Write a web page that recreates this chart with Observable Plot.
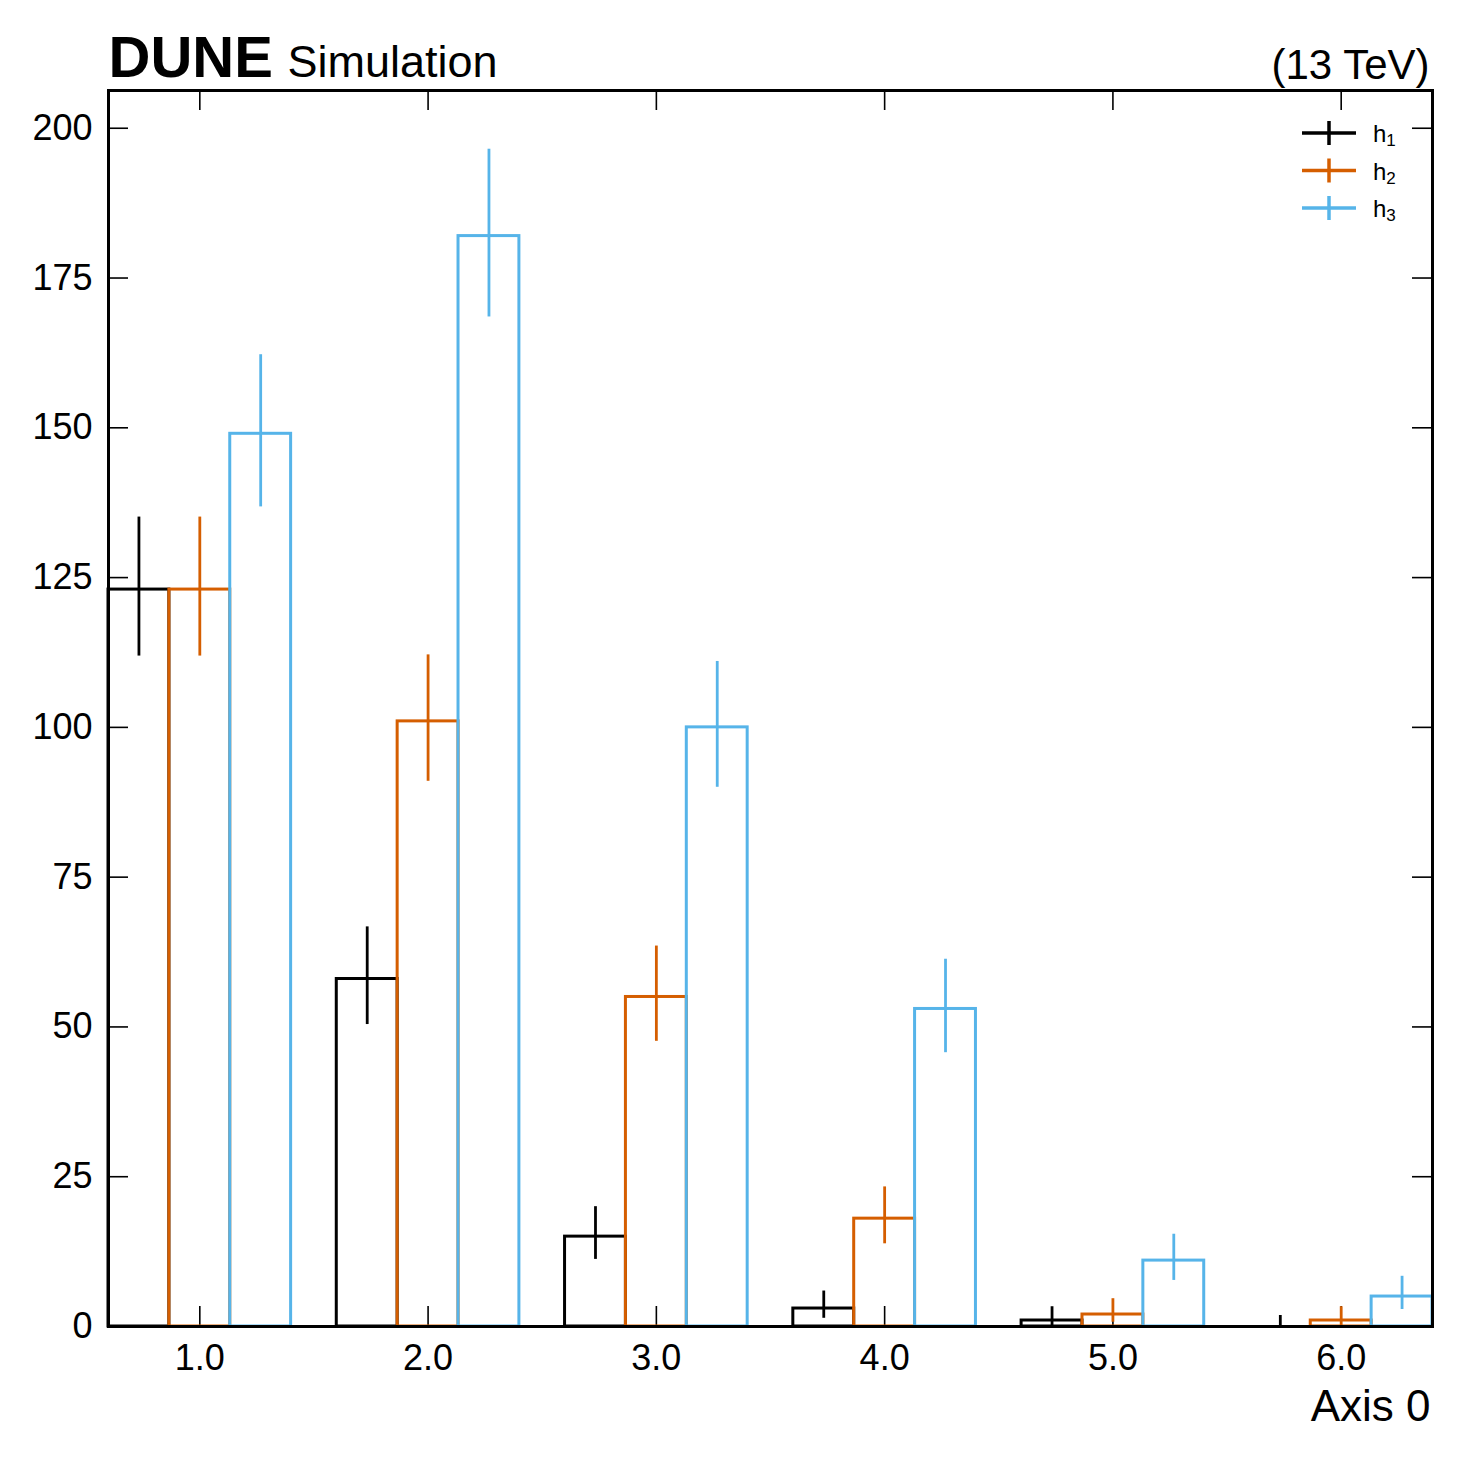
<!DOCTYPE html>
<html>
<head>
<meta charset="utf-8">
<script src="https://cdn.jsdelivr.net/npm/d3@7"></script>
<script src="https://cdn.jsdelivr.net/npm/@observablehq/plot@0.6"></script>
<style>
  html, body { margin: 0; padding: 0; background: #ffffff; }
  #chart { position: relative; width: 1461px; height: 1461px; }
</style>
</head>
<body>
<div id="chart"></div>
<script>
// ---- data ----
const binCenters = [1, 2, 3, 4, 5, 6];
const seriesNames = ["h1", "h2", "h3"];
const legendBase = "h";
const legendSubs = ["1", "2", "3"];
const seriesColors = ["#000000", "#D55E00", "#56B4E9"];
const h1Values = [123, 58, 15, 3, 1, 0];
const h2Values = [123, 101, 55, 18, 2, 1];
const h3Values = [149, 182, 100, 53, 11, 5];
// error bar ends (asymmetric Poisson intervals as drawn)
const h1Lower = [111.9, 50.4, 11.2, 1.37, 0.17, 0];
const h1Upper = [135.1, 66.7, 20.0, 5.92, 3.30, 1.84];
const h2Lower = [111.9, 91.0, 47.6, 13.8, 0.71, 0.17];
const h2Upper = [135.1, 112.1, 63.5, 23.3, 4.64, 3.30];
const h3Lower = [136.8, 168.5, 90.0, 45.7, 7.69, 2.84];
const h3Upper = [162.2, 196.5, 111.0, 61.3, 15.4, 8.38];
const xTicks = [1, 2, 3, 4, 5, 6];
const yTicks = [0, 25, 50, 75, 100, 125, 150, 175, 200];
const xDomain = [0.6, 6.4];
const yDomain = [0, 206.3];
const titleBold = "DUNE";
const titleRest = "Simulation";
const titleRight = "(13 TeV)";
const xLabel = "Axis 0";

// ---- layout ----
const W = 1461, H = 1461;
const mL = 108, mR = 29, mT = 90, mB = 135;
const frameW = W - mL - mR, frameH = H - mT - mB;
const tickLen = 20;
const groupWidth = 0.8;
const FONT = "'Liberation Sans', Arial, Helvetica, sans-serif";

const series = [
  {name: seriesNames[0], color: seriesColors[0], values: h1Values, lower: h1Lower, upper: h1Upper},
  {name: seriesNames[1], color: seriesColors[1], values: h2Values, lower: h2Lower, upper: h2Upper},
  {name: seriesNames[2], color: seriesColors[2], values: h3Values, lower: h3Lower, upper: h3Upper}
];
const sub = groupWidth / series.length;
const rowsFor = (s, k) => binCenters.map((c, i) => ({
  series: s.name,
  x1: c - groupWidth / 2 + k * sub,
  x2: c - groupWidth / 2 + (k + 1) * sub,
  xc: c - groupWidth / 2 + (k + 0.5) * sub,
  value: s.values[i],
  lo: s.lower[i],
  hi: s.upper[i]
}));

const dataMarks = series.flatMap((s, k) => {
  const rows = rowsFor(s, k);
  return [
    Plot.rect(rows, {x1: "x1", x2: "x2", y1: 0, y2: "value", fill: "none", stroke: s.color, strokeWidth: 3}),
    Plot.ruleX(rows, {x: "xc", y1: "lo", y2: "hi", stroke: s.color, strokeWidth: 2.8})
  ];
});

const chart = Plot.plot({
  width: W,
  height: H,
  marginLeft: mL,
  marginRight: mR,
  marginTop: mT,
  marginBottom: mB,
  style: {fontFamily: FONT, fontSize: "36px", background: "#ffffff", color: "#000000", overflow: "visible"},
  x: {type: "linear", domain: xDomain, axis: null},
  y: {type: "linear", domain: yDomain, axis: null},
  marks: [
    // inward ticks on all four sides
    Plot.tickY(yTicks, {y: d => d, insetRight: frameW - tickLen, stroke: "#000", strokeWidth: 1.6}),
    Plot.tickY(yTicks, {y: d => d, insetLeft: frameW - tickLen, stroke: "#000", strokeWidth: 1.6}),
    Plot.tickX(xTicks, {x: d => d, insetBottom: frameH - tickLen, stroke: "#000", strokeWidth: 1.6}),
    Plot.tickX(xTicks, {x: d => d, insetTop: frameH - tickLen, stroke: "#000", strokeWidth: 1.6}),
    ...dataMarks,
    Plot.frame({stroke: "#000", strokeWidth: 3}),
    Plot.axisY({anchor: "left", ticks: yTicks, tickSize: 0, tickPadding: 16, fontSize: 36, label: null, fill: "#000"}),
    Plot.axisX({anchor: "bottom", ticks: xTicks, tickFormat: d3.format(".1f"), tickSize: 0, tickPadding: 18, fontSize: 36, label: null, fill: "#000"}),
    Plot.text([titleBold], {frameAnchor: "top-left", textAnchor: "start", lineAnchor: "bottom", dx: 0, dy: -14, fontSize: 58, fontWeight: "bold", fill: "#000"}),
    Plot.text([titleRest], {frameAnchor: "top-left", textAnchor: "start", lineAnchor: "bottom", dx: 179, dy: -14, fontSize: 45, fill: "#000"}),
    Plot.text([titleRight], {frameAnchor: "top-right", textAnchor: "end", lineAnchor: "bottom", dx: -3, dy: -12, fontSize: 42, fill: "#000"}),
    Plot.text([xLabel], {frameAnchor: "bottom-right", textAnchor: "end", lineAnchor: "bottom", dx: -2, dy: 94, fontSize: 44, fill: "#000"})
  ]
});
document.getElementById("chart").appendChild(chart);

// ---- legend (top-right, inside frame) ----
const svg = d3.select(chart);
const leg = svg.append("g").attr("font-family", FONT).attr("text-anchor", "start");
const legX = W - mR - 130, legY = mT + 43, legStep = 37.5;
series.forEach((s, k) => {
  const y = legY + k * legStep;
  leg.append("line").attr("x1", legX).attr("x2", legX + 54).attr("y1", y).attr("y2", y)
    .attr("stroke", s.color).attr("stroke-width", 3.5);
  leg.append("line").attr("x1", legX + 27).attr("x2", legX + 27).attr("y1", y - 12).attr("y2", y + 12)
    .attr("stroke", s.color).attr("stroke-width", 3.5);
  const t = leg.append("text").attr("x", legX + 71).attr("y", y + 9).attr("font-size", 24)
    .attr("fill", "#000").attr("text-anchor", "start");
  t.append("tspan").text(legendBase);
  t.append("tspan").attr("font-size", 17).attr("dy", 4).text(legendSubs[k]);
});
</script>
</body>
</html>
